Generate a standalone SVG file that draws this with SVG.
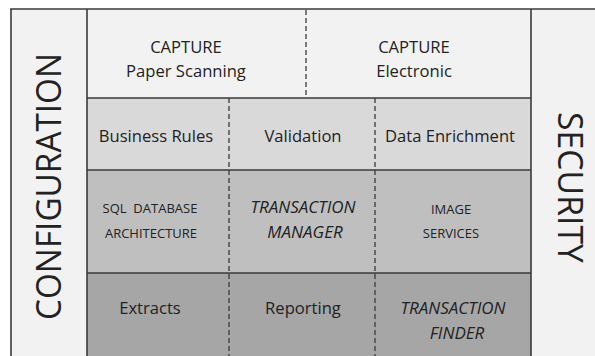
<svg xmlns="http://www.w3.org/2000/svg" width="595" height="356" viewBox="0 0 595 356">
<style>
  .t { font-family: "Open Sans", "Noto Sans", "Liberation Sans", sans-serif; fill: #222222; text-anchor: middle; }
  .n { font-size: 16.6px; }
  .s { font-size: 13px; }
  .i { font-size: 17px; font-style: italic; }
  .big { font-size: 35px; }
  .solid { stroke: #3a3a3a; stroke-width: 1.6; fill: none; }
  .dash { stroke: #3a3a3a; stroke-width: 1.3; stroke-dasharray: 5 3; fill: none; }
</style>
<rect x="0" y="0" width="595" height="356" fill="#ffffff"/>

<g id="configuration">
  <rect x="11" y="9" width="76" height="347" fill="#f2f2f2"/>
  <text class="t big" transform="translate(61,186.5) rotate(-90)" x="0" y="0" textLength="267" lengthAdjust="spacingAndGlyphs">CONFIGURATION</text>
</g>
<g id="security">
  <rect x="531" y="9" width="64" height="347" fill="#f2f2f2"/>
  <text class="t big" transform="translate(558,187.5) rotate(90)" x="0" y="0" textLength="151" lengthAdjust="spacingAndGlyphs">SECURITY</text>
</g>

<g id="capture-paper">
  <rect x="87" y="9" width="219" height="89" fill="#f2f2f2"/>
  <text class="t n" x="186" y="53">CAPTURE</text>
  <text class="t n" x="186" y="77">Paper Scanning</text>
</g>
<g id="capture-electronic">
  <rect x="306" y="9" width="225" height="89" fill="#f2f2f2"/>
  <text class="t n" x="414" y="53">CAPTURE</text>
  <text class="t n" x="414" y="77">Electronic</text>
</g>

<g id="business-rules">
  <rect x="87" y="98" width="142" height="72" fill="#d9d9d9"/>
  <text class="t n" x="156" y="142">Business Rules</text>
</g>
<g id="validation">
  <rect x="229" y="98" width="146" height="72" fill="#d9d9d9"/>
  <text class="t n" x="303" y="142">Validation</text>
</g>
<g id="data-enrichment">
  <rect x="375" y="98" width="156" height="72" fill="#d9d9d9"/>
  <text class="t n" x="450" y="142">Data Enrichment</text>
</g>

<g id="sql-database">
  <rect x="87" y="170" width="142" height="103" fill="#bfbfbf"/>
  <text class="t s" x="150" y="213" xml:space="preserve">SQL  DATABASE</text>
  <text class="t s" x="151" y="238">ARCHITECTURE</text>
</g>
<g id="transaction-manager">
  <rect x="229" y="170" width="146" height="103" fill="#bfbfbf"/>
  <text class="t i" x="303" y="213">TRANSACTION</text>
  <text class="t i" x="305" y="238">MANAGER</text>
</g>
<g id="image-services">
  <rect x="375" y="170" width="156" height="103" fill="#bfbfbf"/>
  <text class="t s" x="451" y="214">IMAGE</text>
  <text class="t s" x="451" y="238">SERVICES</text>
</g>

<g id="extracts">
  <rect x="87" y="273" width="142" height="83" fill="#a6a6a6"/>
  <text class="t n" x="150" y="314">Extracts</text>
</g>
<g id="reporting">
  <rect x="229" y="273" width="146" height="83" fill="#a6a6a6"/>
  <text class="t n" x="303" y="314">Reporting</text>
</g>
<g id="transaction-finder">
  <rect x="375" y="273" width="156" height="83" fill="#a6a6a6"/>
  <text class="t i" x="453" y="314">TRANSACTION</text>
  <text class="t i" x="457" y="339">FINDER</text>
</g>

<g id="connectors">
  <line class="dash" x1="306" y1="10" x2="306" y2="98"/>
  <line class="dash" x1="229" y1="98" x2="229" y2="356"/>
  <line class="dash" x1="375" y1="98" x2="375" y2="356"/>
  <line class="solid" x1="87" y1="98" x2="531" y2="98"/>
  <line class="solid" x1="87" y1="170" x2="531" y2="170"/>
  <line class="solid" x1="87" y1="273" x2="531" y2="273"/>
  <line class="solid" x1="11" y1="9" x2="11" y2="356"/>
  <line class="solid" x1="87" y1="9" x2="87" y2="356"/>
  <line class="solid" x1="531" y1="9" x2="531" y2="356"/>
  <line class="solid" x1="10.2" y1="9" x2="595" y2="9"/>
</g>
</svg>
